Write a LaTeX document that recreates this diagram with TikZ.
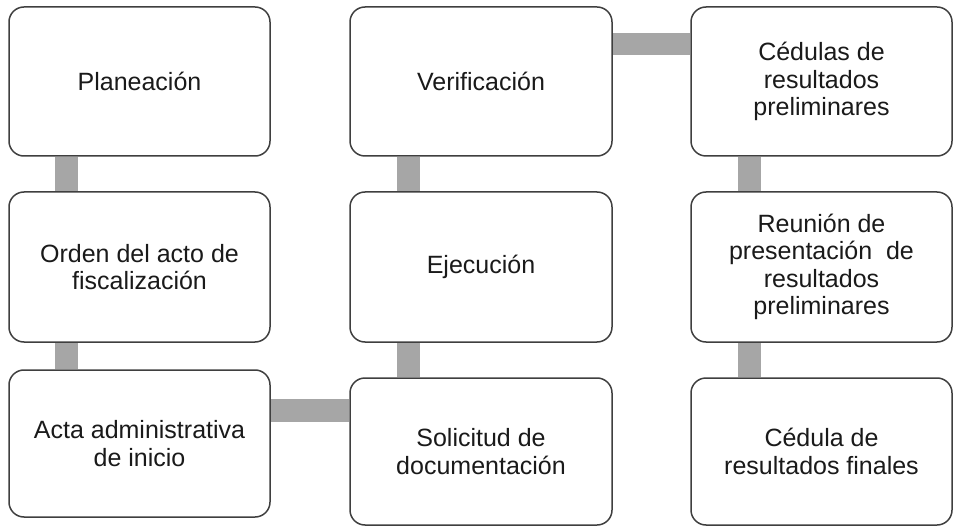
\documentclass[tikz,border=0pt]{standalone}
\usepackage{fontspec}
\setmainfont{Liberation Sans}
\usetikzlibrary{backgrounds}
\definecolor{boxline}{HTML}{3F3F3F}
\definecolor{barcol}{HTML}{A6A6A6}
\definecolor{txt}{HTML}{1A1A1A}
\begin{document}
\begin{tikzpicture}[x=1pt,y=-1pt,
  stage/.style={draw=boxline, line width=1.5pt, rounded corners=15pt, fill=white,
    minimum width=261pt, align=center, text=txt, inner sep=0pt,
    font=\fontsize{25}{27.5}\selectfont},
  bar/.style={draw=barcol, line width=23pt}]
\useasboundingbox (0,0) rectangle (955,529);
\node[stage, minimum height=149pt] (p)  at (139.5,81.5) {Planeación};
\node[stage, minimum height=150pt] (o)  at (139.5,267) {Orden del acto de\\fiscalización};
\node[stage, minimum height=147pt] (a)  at (139.5,443.5) {Acta administrativa\\de inicio};
\node[stage, minimum width=262pt, minimum height=147pt] (s) at (481,451.5) {Solicitud de\\documentación};
\node[stage, minimum width=262pt, minimum height=150pt] (e) at (481,267) {Ejecución};
\node[stage, minimum width=262pt, minimum height=149pt] (v) at (481,81.5) {Verificación};
\node[stage, minimum height=149pt] (c)  at (821.5,81.5) {Cédulas de\\resultados\\preliminares};
\node[stage, minimum height=150pt] (r)  at (821.5,267) {Reunión de\\presentación~ de\\resultados\\preliminares};
\node[stage, minimum height=147pt] (f)  at (821.5,451.5) {Cédula de\\resultados finales};
\begin{scope}[on background layer]
\fill[white] (0,0) rectangle (955,529);
\coordinate (x1) at (66.5,0);
\coordinate (x2) at (408,0);
\coordinate (x3) at (749,0);
\coordinate (yt) at (0,44);
\coordinate (yb) at (0,410.5);
\draw[bar] (p.south -| x1) -- (o.north -| x1);
\draw[bar] (o.south -| x1) -- (a.north -| x1);
\draw[bar] (a.east |- yb) -- (s.west |- yb);
\draw[bar] (s.north -| x2) -- (e.south -| x2);
\draw[bar] (e.north -| x2) -- (v.south -| x2);
\draw[bar, line width=22pt] (v.east |- yt) -- (c.west |- yt);
\draw[bar] (c.south -| x3) -- (r.north -| x3);
\draw[bar] (r.south -| x3) -- (f.north -| x3);
\end{scope}
\end{tikzpicture}
\end{document}
